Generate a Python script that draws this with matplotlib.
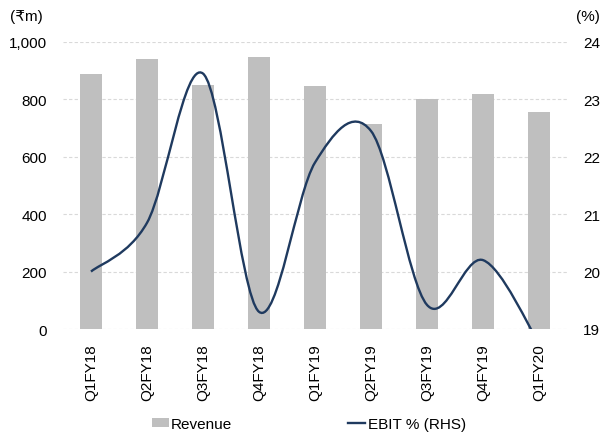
import numpy as np
import matplotlib
matplotlib.use("Agg")
import matplotlib.pyplot as plt
from matplotlib.path import Path
from matplotlib.patches import PathPatch, Patch
from matplotlib.lines import Line2D
from matplotlib.ticker import FuncFormatter

plt.rcParams['font.family'] = ['Liberation Sans', 'DejaVu Sans']
plt.rcParams['font.size'] = 11

# Data: -
quarters = ['Q1FY18', 'Q2FY18', 'Q3FY18', 'Q4FY18', 'Q1FY19',
            'Q2FY19', 'Q3FY19', 'Q4FY19', 'Q1FY20']
revenue = [890, 942, 849, 946, 846, 714, 803, 819, 757]          # Rs m
ebit_margin = [20.0, 20.85, 23.45, 19.3, 21.9, 22.45, 19.42, 20.2, 18.75]  # %

bar_color = '#bfbfbf'
line_color = '#1f3a5f'
grid_color = '#d9d9d9'


# Smoothed line like the spreadsheet one (bezier through the points): -
def smooth_path(xs, ys):
    pts = np.column_stack([xs, ys]).astype(float)
    n = len(pts)
    verts = [pts[0]]
    codes = [Path.MOVETO]
    for i in range(n - 1):
        p0 = pts[i - 1] if i > 0 else pts[i]
        p1 = pts[i]
        p2 = pts[i + 1]
        p3 = pts[i + 2] if i + 2 < n else pts[i + 1]
        c1 = p1 + (p2 - p0) / 6.0
        c2 = p2 - (p3 - p1) / 6.0
        verts += [c1, c2, p2]
        codes += [Path.CURVE4] * 3
    return Path(verts, codes)


fig = plt.figure(figsize=(6.03, 4.39), dpi=100)
ax = fig.add_axes([63 / 603, 1 - 330 / 439, 504 / 603, 287 / 439])

x = np.arange(len(quarters))
ax.bar(x, revenue, width=0.41, color=bar_color, zorder=2)
ax.set_xlim(-0.5, len(quarters) - 0.5)
ax.set_ylim(0, 1000)
ax.set_yticks(range(0, 1001, 200))
ax.yaxis.set_major_formatter(FuncFormatter(lambda v, p: f'{int(v):,}'))
ax.set_xticks(x)
ax.set_xticklabels(quarters, rotation=90)
ax.grid(axis='y', color=grid_color, linestyle=(0, (3, 2)), linewidth=0.8, zorder=0)
ax.set_axisbelow(True)

ax2 = ax.twinx()
ax2.set_ylim(19, 24)
ax2.set_yticks(range(19, 25))
ax2.add_patch(PathPatch(smooth_path(x, ebit_margin), facecolor='none',
                        edgecolor=line_color, linewidth=1.7, zorder=3))

for a in (ax, ax2):
    for s in a.spines.values():
        s.set_visible(False)
    a.tick_params(length=0, colors='black')
ax.tick_params(axis='y', pad=11.5)
ax.tick_params(axis='x', pad=10.5)
ax2.tick_params(axis='y', pad=11.5)

# Axis unit labels: -
fig.text(10 / 603, 1 - 17 / 439, '(\u20b9m)', ha='left', va='center', fontsize=11)
fig.text(600 / 603, 1 - 17 / 439, '(%)', ha='right', va='center', fontsize=11)

# Legend: -
handles = [Patch(facecolor=bar_color, edgecolor='none'),
           Line2D([], [], color=line_color, linewidth=1.7)]
fig.legend(handles, ['Revenue', 'EBIT % (RHS)'], loc='center left',
           bbox_to_anchor=(152 / 603, 1 - 425 / 439), ncol=2, frameon=False,
           borderpad=0, borderaxespad=0, handlelength=1.1, handleheight=0.5,
           handletextpad=0.15, columnspacing=7.6, fontsize=11)

fig.savefig('out.png', dpi=100)
